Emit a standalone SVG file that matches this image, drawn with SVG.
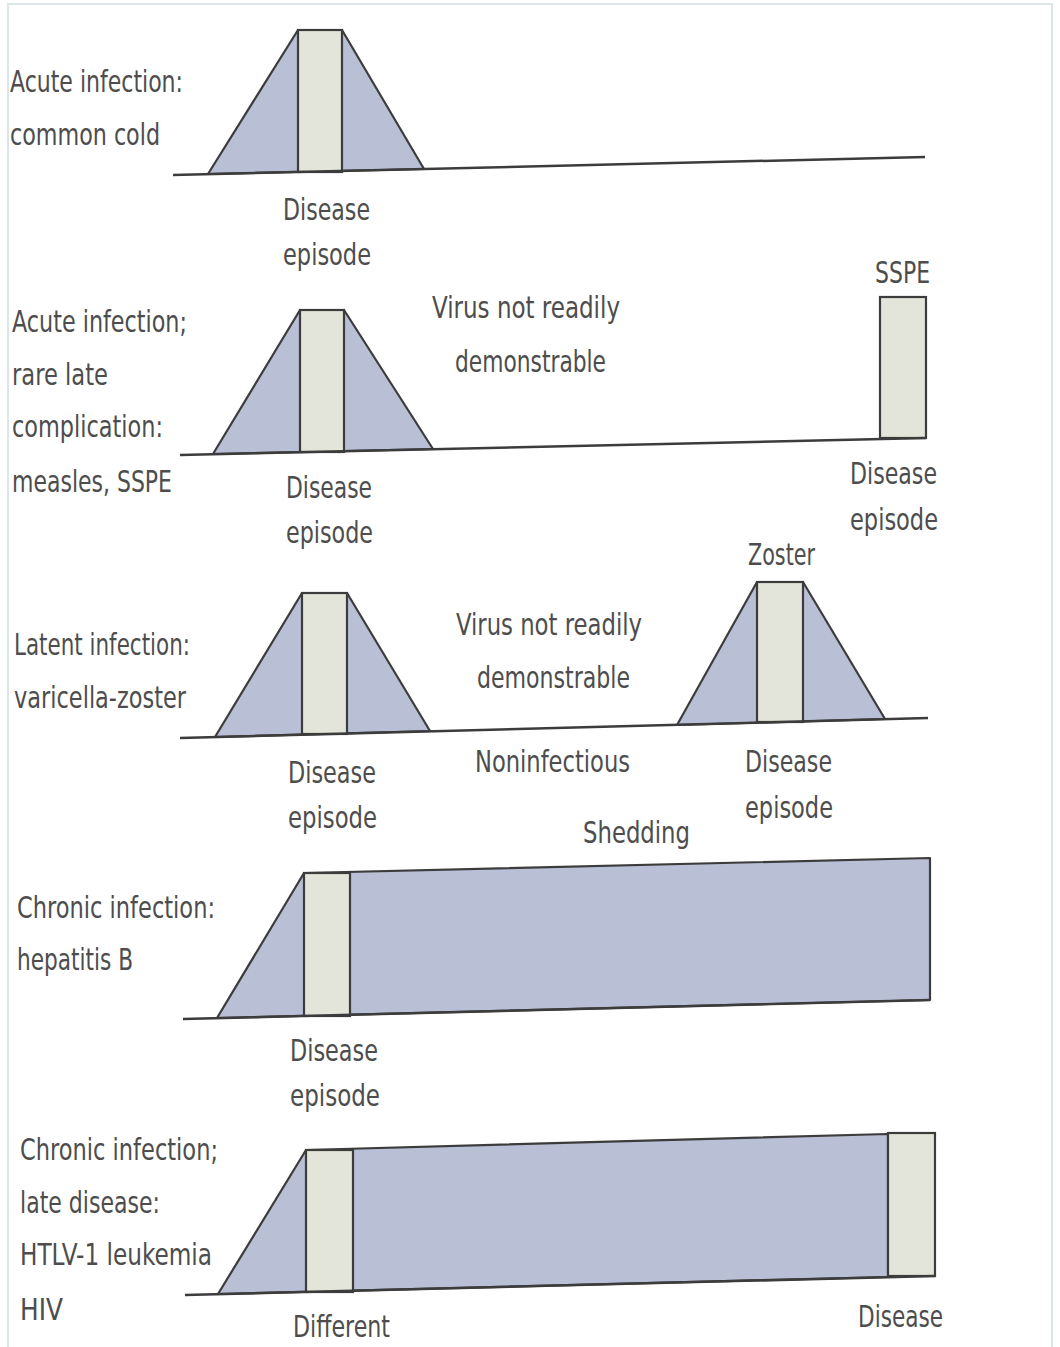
<svg xmlns="http://www.w3.org/2000/svg" width="1060" height="1347" viewBox="0 0 1060 1347">
<style>
text{font-family:"Liberation Sans Narrow","DejaVu Sans Condensed","Liberation Sans",sans-serif;font-size:31px;fill:#4d4d4d;}
.bg{fill:#b9bfd5;stroke:#3c3c3c;stroke-width:2.2;stroke-linejoin:round}
.ep{fill:#e3e5da;stroke:#3c3c3c;stroke-width:2.2}
.base{stroke:#3c3c3c;stroke-width:2.5;fill:none}
</style>
<rect x="0" y="0" width="1060" height="1347" fill="#ffffff"/>
<rect x="8" y="4" width="1044" height="1360" fill="none" stroke="#dde6e6" stroke-width="2"/>

<g id="row1">
<polygon class="bg" points="208,174 298,30 342,30 424,169"/>
<rect class="ep" x="298" y="30" width="44" height="142"/>
<text x="10" y="92" textLength="173" lengthAdjust="spacingAndGlyphs">Acute infection:</text>
<text x="10" y="145" textLength="150" lengthAdjust="spacingAndGlyphs">common cold</text>
<text x="283" y="220" textLength="87" lengthAdjust="spacingAndGlyphs">Disease</text>
<text x="283" y="265" textLength="88" lengthAdjust="spacingAndGlyphs">episode</text>
</g>

<g id="row2">
<polygon class="bg" points="213,454 300,310 344,310 433,449"/>
<rect class="ep" x="300" y="310" width="44" height="142"/>
<rect class="ep" x="880" y="297" width="46" height="141"/>
<text x="12" y="332" textLength="175" lengthAdjust="spacingAndGlyphs">Acute infection;</text>
<text x="12" y="385" textLength="96" lengthAdjust="spacingAndGlyphs">rare late</text>
<text x="12" y="437" textLength="151" lengthAdjust="spacingAndGlyphs">complication:</text>
<text x="12" y="492" textLength="160" lengthAdjust="spacingAndGlyphs">measles, SSPE</text>
<text x="432" y="318" textLength="188" lengthAdjust="spacingAndGlyphs">Virus not readily</text>
<text x="455" y="372" textLength="151" lengthAdjust="spacingAndGlyphs">demonstrable</text>
<text x="286" y="498" textLength="86" lengthAdjust="spacingAndGlyphs">Disease</text>
<text x="286" y="543" textLength="87" lengthAdjust="spacingAndGlyphs">episode</text>
<text x="875" y="283" textLength="55" lengthAdjust="spacingAndGlyphs">SSPE</text>
<text x="850" y="484" textLength="87" lengthAdjust="spacingAndGlyphs">Disease</text>
<text x="850" y="530" textLength="88" lengthAdjust="spacingAndGlyphs">episode</text>
</g>

<g id="row3">
<polygon class="bg" points="215,737 302,593 347,593 430,731"/>
<rect class="ep" x="302" y="593" width="45" height="141"/>
<polygon class="bg" points="677,725 757,582 803,582 885,719"/>
<rect class="ep" x="757" y="582" width="46" height="140"/>
<text x="14" y="655" textLength="176" lengthAdjust="spacingAndGlyphs">Latent infection:</text>
<text x="14" y="708" textLength="172" lengthAdjust="spacingAndGlyphs">varicella-zoster</text>
<text x="456" y="635" textLength="186" lengthAdjust="spacingAndGlyphs">Virus not readily</text>
<text x="477" y="688" textLength="153" lengthAdjust="spacingAndGlyphs">demonstrable</text>
<text x="748" y="565" textLength="67" lengthAdjust="spacingAndGlyphs">Zoster</text>
<text x="288" y="783" textLength="88" lengthAdjust="spacingAndGlyphs">Disease</text>
<text x="288" y="828" textLength="89" lengthAdjust="spacingAndGlyphs">episode</text>
<text x="475" y="772" textLength="155" lengthAdjust="spacingAndGlyphs">Noninfectious</text>
<text x="745" y="772" textLength="87" lengthAdjust="spacingAndGlyphs">Disease</text>
<text x="745" y="818" textLength="88" lengthAdjust="spacingAndGlyphs">episode</text>
<text x="583" y="843" textLength="107" lengthAdjust="spacingAndGlyphs">Shedding</text>
</g>

<g id="row4">
<polygon class="bg" points="217,1018 304,873 930,858 930,1000"/>
<rect class="ep" x="304" y="873" width="46" height="143"/>
<text x="17" y="918" textLength="198" lengthAdjust="spacingAndGlyphs">Chronic infection:</text>
<text x="17" y="970" textLength="116" lengthAdjust="spacingAndGlyphs">hepatitis B</text>
<text x="290" y="1061" textLength="88" lengthAdjust="spacingAndGlyphs">Disease</text>
<text x="290" y="1106" textLength="90" lengthAdjust="spacingAndGlyphs">episode</text>
</g>

<g id="row5">
<polygon class="bg" points="218,1294 306,1150 888,1134 888,1277"/>
<rect class="ep" x="306" y="1150" width="47" height="142"/>
<rect class="ep" x="888" y="1133" width="47" height="143"/>
<text x="20" y="1160" textLength="198" lengthAdjust="spacingAndGlyphs">Chronic infection;</text>
<text x="20" y="1213" textLength="140" lengthAdjust="spacingAndGlyphs">late disease:</text>
<text x="20" y="1265" textLength="192" lengthAdjust="spacingAndGlyphs">HTLV-1 leukemia</text>
<text x="20" y="1320" textLength="43" lengthAdjust="spacingAndGlyphs">HIV</text>
<text x="293" y="1337" textLength="97" lengthAdjust="spacingAndGlyphs">Different</text>
<text x="858" y="1327" textLength="85" lengthAdjust="spacingAndGlyphs">Disease</text>
</g>

<g id="connectors">
<line class="base" x1="173" y1="175" x2="925" y2="157"/>
<line class="base" x1="180" y1="455" x2="926" y2="438"/>
<line class="base" x1="180" y1="738" x2="928" y2="718"/>
<line class="base" x1="183" y1="1019" x2="930" y2="1000"/>
<line class="base" x1="185" y1="1295" x2="935" y2="1276"/>
</g>
</svg>
